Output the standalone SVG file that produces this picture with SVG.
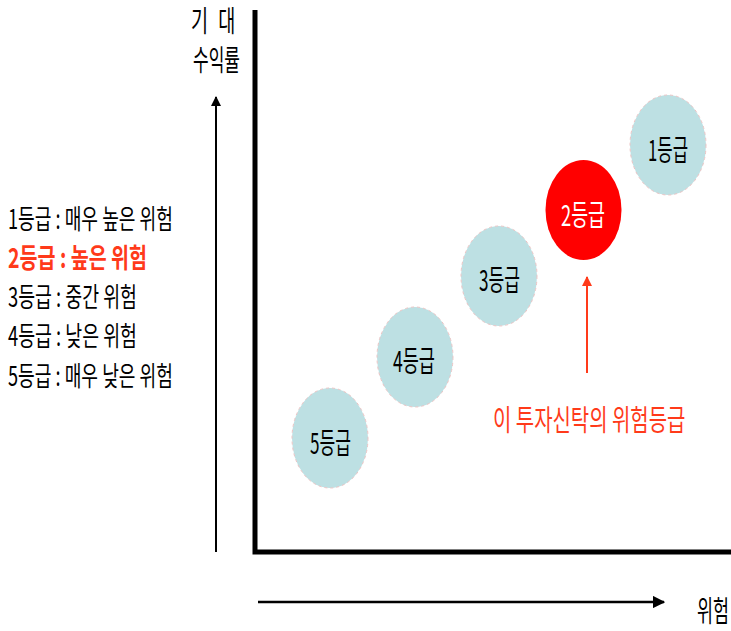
<svg xmlns="http://www.w3.org/2000/svg" width="731" height="631" viewBox="0 0 731 631">
<style>
.t{font-family:"Noto Sans CJK KR","Noto Sans",sans-serif;font-size:29px;fill:#000}
.l{font-size:27px}
.c{fill:#bde0e3;stroke:#ecc4c4;stroke-width:1;stroke-dasharray:3 3}
.r{fill:#ff3a1a}
</style>
<defs>
<marker id="ab" viewBox="0 0 10 10" refX="9" refY="5" markerWidth="5" markerHeight="5" orient="auto" markerUnits="strokeWidth"><path d="M0,0 L10,5 L0,10 z" fill="#000"/></marker>
<marker id="ar" viewBox="0 0 10 10" refX="9" refY="5" markerWidth="5" markerHeight="5" orient="auto" markerUnits="strokeWidth"><path d="M0,0 L10,5 L0,10 z" fill="#ff3a1a"/></marker>
</defs>
<rect width="731" height="631" fill="#fff"/>
<g id="connectors">
<path d="M255,10 V552 H731" fill="none" stroke="#000" stroke-width="5"/>
<line x1="216" y1="552" x2="216" y2="97" stroke="#000" stroke-width="2" marker-end="url(#ab)"/>
<line x1="258" y1="602" x2="664" y2="602" stroke="#000" stroke-width="2.5" marker-end="url(#ab)"/>
<line x1="587" y1="373" x2="587" y2="277" stroke="#ff3a1a" stroke-width="2" marker-end="url(#ar)"/>
</g>
<g id="axis-labels">
<text class="t" transform="translate(191,32) scale(0.64,1)" font-size="29">기<tspan x="36"> 대</tspan></text>
<text class="t" x="193" y="71" font-size="27" textLength="47" lengthAdjust="spacingAndGlyphs">수익률</text>
<text class="t" transform="translate(697,622) scale(0.6,1)" font-size="26">위험</text>
</g>
<g id="legend">
<text class="t l" x="8" y="229" textLength="165" lengthAdjust="spacingAndGlyphs">1등급 : 매우 높은 위험</text>
<text class="t l r" x="8" y="268" font-weight="bold" textLength="139" lengthAdjust="spacingAndGlyphs">2등급 : 높은 위험</text>
<text class="t l" x="8" y="307" textLength="129" lengthAdjust="spacingAndGlyphs">3등급 : 중간 위험</text>
<text class="t l" x="8" y="346" textLength="129" lengthAdjust="spacingAndGlyphs">4등급 : 낮은 위험</text>
<text class="t l" x="8" y="386" textLength="165" lengthAdjust="spacingAndGlyphs">5등급 : 매우 낮은 위험</text>
</g>
<g id="grade1"><ellipse class="c" cx="668" cy="145" rx="38" ry="50"/><text class="t" x="648" y="161" textLength="40" lengthAdjust="spacingAndGlyphs">1등급</text></g>
<g id="grade2"><ellipse cx="583.5" cy="210" rx="38" ry="50" fill="#ff0000"/><text class="t" x="561" y="226" style="fill:#fff" textLength="44" lengthAdjust="spacingAndGlyphs">2등급</text></g>
<g id="grade3"><ellipse class="c" cx="499" cy="276" rx="38" ry="50"/><text class="t" x="479" y="291" textLength="41" lengthAdjust="spacingAndGlyphs">3등급</text></g>
<g id="grade4"><ellipse class="c" cx="415" cy="357" rx="38" ry="50"/><text class="t" x="393" y="372" textLength="42" lengthAdjust="spacingAndGlyphs">4등급</text></g>
<g id="grade5"><ellipse class="c" cx="330" cy="438" rx="38" ry="50"/><text class="t" x="310" y="454" textLength="41" lengthAdjust="spacingAndGlyphs">5등급</text></g>
<g id="note"><text class="t r" transform="translate(493,431) scale(0.688,1)" font-size="31">이 투자신탁의 위험등급</text></g>
</svg>
